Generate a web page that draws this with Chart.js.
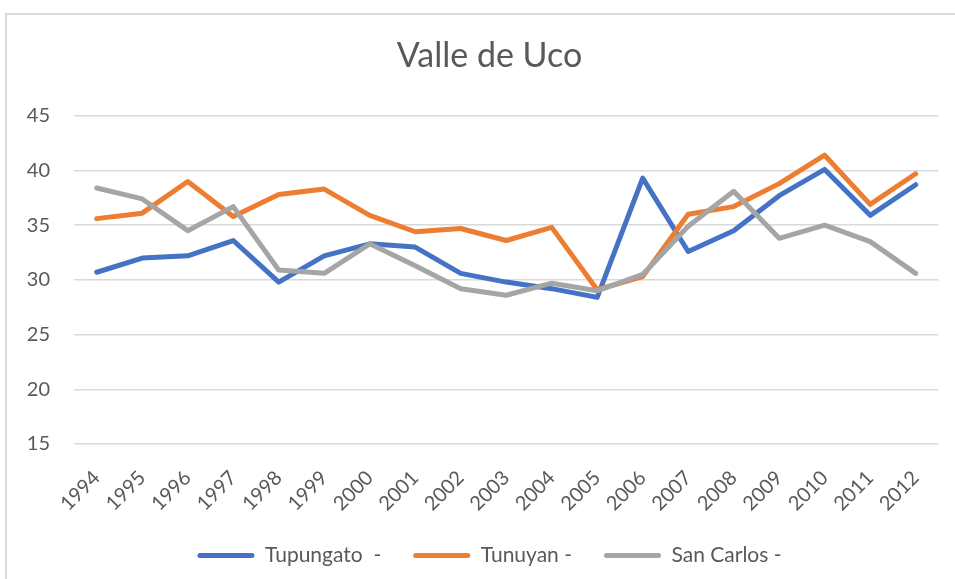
<!DOCTYPE html>
<html>
<head>
<meta charset="utf-8">
<script src="https://cdn.jsdelivr.net/npm/chart.js@4.4.1/dist/chart.umd.min.js"></script>
<style>
  html, body { margin: 0; padding: 0; background: #fff; overflow: hidden; }
  #frame {
    position: absolute; left: 5px; top: 13px; width: 960px; height: 580px;
    border-top: 2px solid #d9d9d9; border-left: 2px solid #d9d9d9;
  }
  #wrap { position: absolute; left: 0; top: 0; width: 955px; height: 579px; }
</style>
</head>
<body>
<div id="frame"></div>
<div id="wrap"><canvas id="chart" width="955" height="579"></canvas></div>
<script>
// Valle de Uco
const years = ["1994", "1995", "1996", "1997", "1998", "1999", "2000", "2001", "2002", "2003",
               "2004", "2005", "2006", "2007", "2008", "2009", "2010", "2011", "2012"];

const tupungato = [30.7, 32.0, 32.2, 33.6, 29.8, 32.2, 33.3, 33.0, 30.6, 29.8,
                   29.2, 28.4, 39.3, 32.6, 34.5, 37.7, 40.1, 35.9, 38.7];
const tunuyan   = [35.6, 36.1, 39.0, 35.8, 37.8, 38.3, 35.9, 34.4, 34.7, 33.6,
                   34.8, 29.1, 30.3, 36.0, 36.7, 38.8, 41.4, 36.9, 39.7];
const sanCarlos = [38.4, 37.4, 34.5, 36.7, 30.9, 30.6, 33.3, 31.3, 29.2, 28.6,
                   29.7, 29.0, 30.5, 34.9, 38.1, 33.8, 35.0, 33.5, 30.6];

const yMin = 15, yMax = 45, yStep = 5;

const grey = "#595959";
const font = "Lato, 'Open Sans', sans-serif";

function series(label, data, color, order) {
  return {
    label, data, order,
    borderColor: color,
    backgroundColor: color,
    borderWidth: 5,
    pointRadius: 0,
    tension: 0,
    borderCapStyle: "round",
    borderJoinStyle: "round",
  };
}

// title and legend sit a bit right of the canvas centre in the original
const nudge = {
  id: "nudge",
  afterLayout(chart) {
    [chart.titleBlock, chart.legend].forEach(b => {
      if (b) { b.left += 19; b.right += 19; }
    });
    (chart.legend.legendHitBoxes || []).forEach(h => { h.left += 19; });
  },
};

new Chart(document.getElementById("chart"), {
  type: "line",
  data: {
    labels: years,
    datasets: [
      series("Tupungato  -", tupungato, "#4472c4", 2),
      series("Tunuyan -", tunuyan, "#ed7d31", 1),
      series("San Carlos -", sanCarlos, "#a5a5a5", 0),
    ],
  },
  options: {
    responsive: false,
    animation: false,
    layout: { padding: { left: 0, right: 14, top: 0, bottom: 3 } },
    scales: {
      x: {
        offset: true,
        grid: { display: false, drawTicks: false },
        border: { display: false },
        ticks: {
          color: grey, font: { family: font, size: 20 },
          minRotation: 45, maxRotation: 45, padding: 22, autoSkip: false,
        },
        afterFit: s => { s.height = 69; },
      },
      y: {
        min: yMin, max: yMax,
        grid: { color: "#d9d9d9", lineWidth: 1.5, drawTicks: false },
        border: { display: false },
        ticks: { stepSize: yStep, color: grey, font: { family: font, size: 20 }, padding: 24 },
        afterFit: s => { s.width = 74; },
      },
    },
    plugins: {
      title: {
        display: true,
        text: "Valle de Uco",
        color: grey,
        font: { family: font, size: 34, weight: "normal" },
        padding: { top: 36, bottom: 39 },
      },
      legend: {
        position: "bottom",
        labels: {
          color: grey,
          font: { family: font, size: 21 },
          boxWidth: 57, boxHeight: 5,
          padding: 32,
          useBorderRadius: true, borderRadius: 2.5,
          sort: (a, b) => a.datasetIndex - b.datasetIndex,
          generateLabels: chart =>
            Chart.defaults.plugins.legend.labels.generateLabels(chart)
              .map(l => ({ ...l, lineWidth: 0 })),
        },
      },
      tooltip: { enabled: false },
    },
  },
  plugins: [nudge],
});
</script>
</body>
</html>
